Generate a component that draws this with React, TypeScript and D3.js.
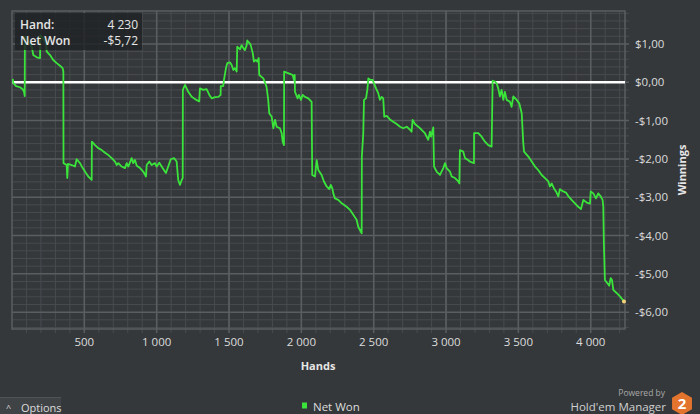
import React from "react";
import * as d3 from "d3";

const hands = [5, 9, 28, 55, 74, 83, 88, 89, 95, 124, 138, 147, 171, 194, 195, 214, 235, 240, 263, 285, 309, 332, 350, 355, 356, 378, 382, 387, 413, 435, 447, 470, 489, 511, 527, 551, 552, 574, 596, 620, 643, 666, 689, 712, 724, 735, 758, 781, 793, 804, 827, 838, 850, 862, 885, 907, 926, 931, 949, 965, 988, 1000, 1018, 1041, 1064, 1080, 1097, 1120, 1138, 1149, 1161, 1173, 1180, 1181, 1186, 1196, 1218, 1242, 1265, 1294, 1299, 1322, 1345, 1364, 1380, 1403, 1426, 1442, 1443, 1460, 1465, 1479, 1488, 1507, 1518, 1530, 1541, 1553, 1557, 1576, 1587, 1599, 1610, 1622, 1626, 1640, 1650, 1664, 1672, 1686, 1695, 1705, 1709, 1737, 1749, 1760, 1771, 1778, 1795, 1806, 1818, 1829, 1852, 1864, 1871, 1880, 1881, 1898, 1921, 1940, 1949, 1954, 1956, 1974, 1983, 1997, 2009, 2025, 2048, 2071, 2075, 2094, 2106, 2117, 2140, 2156, 2175, 2193, 2203, 2214, 2221, 2232, 2255, 2279, 2313, 2336, 2359, 2382, 2393, 2417, 2418, 2428, 2433, 2447, 2456, 2463, 2479, 2493, 2502, 2516, 2532, 2543, 2555, 2566, 2573, 2590, 2612, 2635, 2659, 2682, 2704, 2728, 2751, 2762, 2769, 2785, 2808, 2831, 2854, 2877, 2889, 2896, 2912, 2917, 2935, 2958, 2981, 2993, 3004, 3027, 3039, 3062, 3085, 3092, 3096, 3119, 3131, 3152, 3165, 3193, 3194, 3223, 3246, 3269, 3292, 3315, 3322, 3338, 3350, 3361, 3372, 3384, 3396, 3407, 3419, 3442, 3453, 3465, 3488, 3506, 3523, 3534, 3539, 3569, 3592, 3615, 3637, 3661, 3684, 3707, 3718, 3730, 3746, 3760, 3776, 3787, 3810, 3829, 3845, 3868, 3891, 3914, 3933, 3949, 3972, 3995, 4000, 4018, 4036, 4052, 4069, 4082, 4087, 4091, 4098, 4114, 4128, 4138, 4147, 4156, 4179, 4202, 4230];

const netWon = [0.09, -0.02, -0.1, -0.13, -0.18, -0.25, -0.36, 1.19, 1.15, 1.02, 0.9, 0.71, 0.65, 0.63, 1.23, 1.15, 1.02, 0.8, 0.71, 0.58, 0.5, 0.43, 0.37, 0.28, -2.11, -2.16, -2.5, -2.13, -2.16, -2.2, -2.01, -2.11, -2.24, -2.37, -2.46, -2.55, -1.55, -1.64, -1.72, -1.77, -1.84, -1.9, -1.98, -2.07, -2.16, -2.11, -2.2, -2.24, -2.11, -2.2, -1.98, -2.11, -2.03, -2.18, -2.24, -2.33, -2.46, -2.16, -2.07, -2.16, -2.11, -2.2, -2.1, -2.24, -2.37, -2.2, -2.01, -1.98, -2.07, -2.55, -2.68, -2.55, -2.5, -0.2, -0.15, -0.07, -0.25, -0.38, -0.44, -0.5, -0.16, -0.2, -0.18, -0.33, -0.42, -0.39, -0.38, -0.33, -0.1, -0.1, 0.06, 0.37, 0.5, 0.52, 0.45, 0.32, 0.37, 0.28, 0.93, 0.86, 0.97, 0.89, 0.84, 0.97, 1.09, 1.03, 0.97, 0.76, 0.54, 0.58, 0.54, 0.63, 0.19, 0.1, -0.01, -0.13, -0.46, -0.81, -0.9, -1.2, -0.98, -1.16, -1.2, -1.33, -1.55, -1.64, 0.28, 0.25, 0.22, 0.19, 0.06, 0.19, -0.25, -0.42, -0.33, -0.46, -0.33, -0.38, -0.42, -0.51, -2.42, -2.46, -2.03, -2.29, -2.42, -2.59, -2.72, -2.79, -2.68, -2.77, -2.9, -3.03, -3.07, -3.16, -3.25, -3.33, -3.46, -3.59, -3.77, -3.94, -1.94, -1.33, -0.46, -0.42, -0.2, 0.1, 0.06, 0.06, -0.03, -0.16, -0.29, -0.46, -0.38, -0.42, -0.9, -0.88, -0.97, -1.03, -1.09, -1.16, -1.2, -1.16, -1.24, -1.29, -0.98, -1.09, -1.16, -1.24, -1.33, -1.5, -1.29, -1.42, -1.18, -2.2, -2.33, -2.42, -2.24, -2.11, -2.24, -2.33, -2.46, -2.5, -2.59, -2.64, -1.77, -1.81, -1.98, -2.03, -2.07, -2.11, -1.33, -1.33, -1.42, -1.55, -1.64, -1.68, 0.04, 0.02, -0.03, -0.16, -0.37, -0.2, -0.46, -0.25, -0.46, -0.51, -0.64, -0.37, -0.46, -0.55, -0.81, -1.59, -1.81, -1.94, -2.07, -2.2, -2.29, -2.42, -2.5, -2.59, -2.72, -2.64, -2.77, -2.85, -2.98, -2.79, -2.85, -2.88, -2.97, -3.07, -3.16, -3.25, -3.31, -3.07, -3.14, -3.17, -2.85, -2.9, -3.03, -2.9, -2.98, -3.07, -3.25, -4.2, -5.16, -5.24, -5.31, -5.11, -5.16, -5.42, -5.5, -5.59, -5.72];

const xMajorTicks = [500, 1000, 1500, 2000, 2500, 3000, 3500, 4000];
const yMajorTicks = [1, 0, -1, -2, -3, -4, -5, -6];

const seriesName = "Net Won";
const xTitle = "Hands";
const yTitle = "Winnings";

const W = 700, H = 414;
const L = 12, R = 625, T = 11, B = 329;

const fmtHand = (v: number) => {
  const s = String(Math.round(v));
  return s.replace(/\B(?=(\d{3})+(?!\d))/g, " ");
};
const fmtMoney = (v: number) => {
  const a = Math.abs(v).toFixed(2).replace(".", ",");
  return (v < -0.0001 ? "-$" : "$") + a;
};

export default function App() {
  const x = d3.scaleLinear().domain([0, 4237]).range([L, R]);
  const y = d3.scaleLinear().domain([1.86, -6.44]).range([T, B]);

  const data = hands.map((h, i) => [h, netWon[i]] as [number, number]);
  const line = d3
    .line<[number, number]>()
    .x((d) => x(d[0]))
    .y((d) => y(d[1]));

  const xMinor = d3.range(100, 4237, 100);
  const yMinor = d3.range(-32, 10).map((k) => k * 0.2).filter((v) => v > -6.44 && v < 1.86);
  const isMajorY = (v: number) => Math.abs(v - Math.round(v)) < 1e-6;

  const last = data[data.length - 1];
  const font = "'Segoe UI', 'Open Sans', 'Noto Sans', sans-serif";
  const bg = "#35383b";
  const hexR = 11.5;
  const hexPts = d3.range(6).map((k) => {
    const a = (Math.PI / 3) * k + Math.PI / 6;
    return [682 + hexR * Math.cos(a), 403.5 + hexR * Math.sin(a)].join(",");
  }).join(" ");

  return (
    <svg width={W} height={H} style={{ position: "absolute", left: 0, top: 0, display: "block" }} fontFamily={font}>
      <rect x={0} y={0} width={W} height={H} fill={bg} />
      {/* minor grid */}
      {xMinor.map((v) => (
        <line key={"xm" + v} x1={x(v)} x2={x(v)} y1={T} y2={B + (v % 500 === 0 ? 0 : 4)} stroke={v % 500 === 0 ? "#5b5e61" : "#484b4e"} strokeWidth={1} />
      ))}
      {yMinor.map((v) => (
        <line key={"ym" + v} x1={L} x2={R + 4} y1={y(v)} y2={y(v)} stroke={isMajorY(v) ? "#5b5e61" : "#484b4e"} strokeWidth={isMajorY(v) ? 1.5 : 1} />
      ))}
      {xMajorTicks.map((v) => (
        <line key={"xM" + v} x1={x(v)} x2={x(v)} y1={T} y2={B + 4} stroke="#5b5e61" strokeWidth={1.5} />
      ))}
      <rect x={L} y={T} width={R - L} height={B - T} fill="none" stroke="#5b5e61" strokeWidth={1.5} />
      {/* zero line */}
      <line x1={L} x2={R} y1={y(0)} y2={y(0)} stroke="#ffffff" strokeWidth={2.5} />
      {/* series */}
      <path d={line(data) || ""} fill="none" stroke="#3ae43a" strokeWidth={1.8} strokeLinejoin="round" />
      <circle cx={x(last[0])} cy={y(last[1])} r={2} fill="#f3d27a" />
      {/* tooltip */}
      <rect x={15} y={13} width={127} height={37} fill="#202224" fillOpacity={0.82} />
      <text x={20} y={29} fill="#e6e6e6" fontSize={12} fontWeight={600}>Hand:</text>
      <text x={138} y={29} fill="#e6e6e6" fontSize={12} textAnchor="end">{fmtHand(last[0])}</text>
      <text x={20} y={45} fill="#e6e6e6" fontSize={12} fontWeight={600}>{seriesName}</text>
      <text x={138} y={45} fill="#e6e6e6" fontSize={12} textAnchor="end">{fmtMoney(last[1])}</text>
      {/* y axis labels */}
      {yMajorTicks.map((v) => (
        <text key={"yl" + v} x={635} y={y(v) + 4} fill="#dcdcdc" fontSize={11.5}>{fmtMoney(v)}</text>
      ))}
      <text transform={`translate(686,${(T + B) / 2}) rotate(-90)`} textAnchor="middle" fill="#e6e6e6" fontSize={11} fontWeight={700}>{yTitle}</text>
      {/* x axis labels */}
      {xMajorTicks.map((v) => (
        <text key={"xl" + v} x={x(v)} y={346} textAnchor="middle" fill="#dcdcdc" fontSize={11.5}>{fmtHand(v)}</text>
      ))}
      <text x={318} y={370} textAnchor="middle" fill="#e6e6e6" fontSize={11} fontWeight={700}>{xTitle}</text>
      {/* legend */}
      <rect x={302} y={402.5} width={5} height={6} fill="#3ae43a" />
      <text x={313} y={410.5} fill="#dcdcdc" fontSize={11.5}>{seriesName}</text>
      {/* options */}
      <rect x={0} y={397} width={61} height={17} fill="#404346" />
      <line x1={0} x2={61} y1={397.5} y2={397.5} stroke="#505356" />
      <text x={6} y={411} fill="#dcdcdc" fontSize={9}>^</text>
      <text x={21} y={411.5} fill="#dcdcdc" fontSize={11}>Options</text>
      {/* branding */}
      <text x={665} y={396} textAnchor="end" fill="#a8a8a8" fontSize={8.5}>Powered by</text>
      <text x={666} y={410.5} textAnchor="end" fill="#d0d0d0" fontSize={11.5}>Hold'em Manager</text>
      <polygon points={hexPts} fill="#e2742e" />
      <text x={682} y={409} textAnchor="middle" fill="#ffffff" fontSize={15} fontWeight={700}>2</text>
    </svg>
  );
}
